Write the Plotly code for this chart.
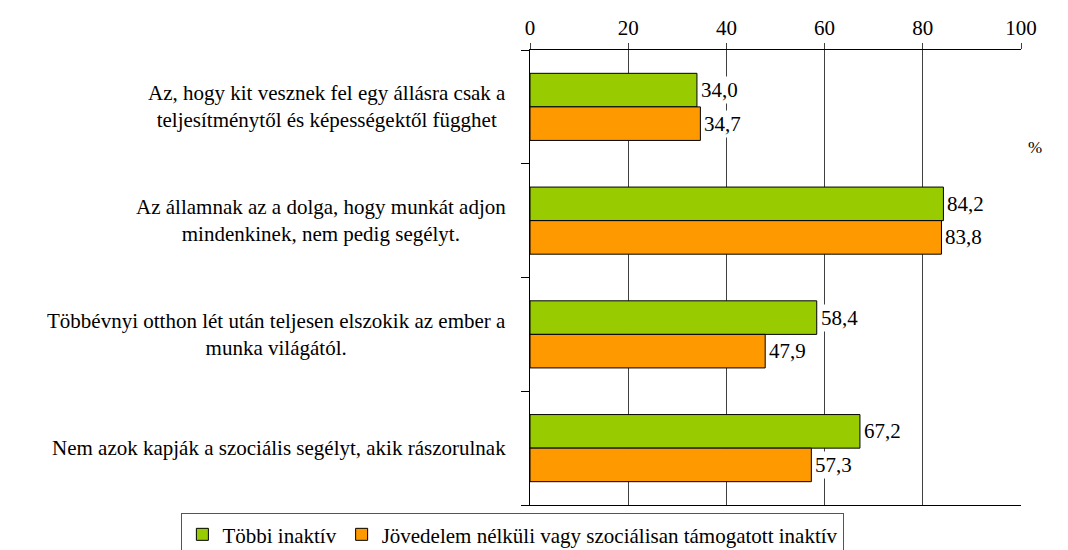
import plotly.graph_objects as go

categories = [
    "Az, hogy kit vesznek fel egy állásra csak a<br>teljesítménytől és képességektől függhet",
    "Az államnak az a dolga, hogy munkát adjon<br>mindenkinek, nem pedig segélyt.",
    "Többévnyi otthon lét után teljesen elszokik az ember a<br>munka világától.",
    "Nem azok kapják a szociális segélyt, akik rászorulnak",
]
series_names = ["Többi inaktív", "Jövedelem nélküli vagy szociálisan támogatott inaktív"]
tobbi = [34.0, 84.2, 58.4, 67.2]
jovedelem = [34.7, 83.8, 47.9, 57.3]
x_ticks = [0, 20, 40, 60, 80, 100]

FONT = "Liberation Serif"
GREEN = "#99CC00"
ORANGE = "#FF9900"
GRID = "#404040"

ypos = list(range(len(categories)))
bargap = 0.41
half = (1 - bargap) / 4

fig = go.Figure()
fig.add_trace(go.Bar(y=ypos, x=tobbi, orientation="h", name=series_names[0],
                     marker=dict(color=GREEN, line=dict(color="black", width=1))))
fig.add_trace(go.Bar(y=ypos, x=jovedelem, orientation="h", name=series_names[1],
                     marker=dict(color=ORANGE, line=dict(color="black", width=1))))

for i, cat in enumerate(categories):
    fig.add_annotation(x=-0.044, xref="paper", y=i, yref="y", text=cat,
                       xanchor="right", yanchor="middle", align="center",
                       showarrow=False, font=dict(family=FONT, size=21, color="black"))
for i, (a, b) in enumerate(zip(tobbi, jovedelem)):
    for val, off in ((a, -half), (b, half)):
        fig.add_annotation(x=val, xref="x", y=i + off, yref="y",
                           text=f"{val:.1f}".replace(".", ","),
                           xanchor="left", yanchor="middle", xshift=2,
                           showarrow=False, bgcolor="white", borderpad=1,
                           font=dict(family=FONT, size=21, color="black"))
fig.add_annotation(x=1.01, xref="paper", y=0.785, yref="paper", text="%",
                   xanchor="left", yanchor="middle", showarrow=False,
                   font=dict(family=FONT, size=17, color="black"))

fig.update_layout(
    template="none",
    width=1060, height=542,
    margin=dict(l=522, r=47, t=42, b=45, autoexpand=False),
    paper_bgcolor="white", plot_bgcolor="white",
    font=dict(family=FONT, size=21, color="black"),
    barmode="group", bargap=bargap, bargroupgap=0,
    xaxis=dict(side="top", range=[0, 100], tickvals=x_ticks,
               ticktext=[str(v) for v in x_ticks], automargin=False,
               showgrid=True, gridcolor=GRID, gridwidth=1,
               showline=True, linecolor="black", linewidth=1, mirror=True,
               ticks="outside", ticklen=6, tickcolor=GRID,
               zeroline=False, tickfont=dict(family=FONT, size=21, color="black")),
    yaxis=dict(range=[len(categories) - 0.5, -0.5], showticklabels=False,
               tickvals=[], showgrid=False, zeroline=False, automargin=False,
               showline=True, linecolor="black", linewidth=1,
               minor=dict(tickvals=[i - 0.5 for i in range(len(categories) + 1)],
                          ticks="outside", ticklen=8, tickcolor="black", showgrid=False)),
    legend=dict(orientation="h", x=-0.71, xanchor="left", y=-0.018, yanchor="top",
                bordercolor="#555555", borderwidth=1, bgcolor="white",
                font=dict(family=FONT, size=21, color="black"), traceorder="normal",
                itemwidth=30, tracegroupgap=0),
)

fig.write_html("out.html")
